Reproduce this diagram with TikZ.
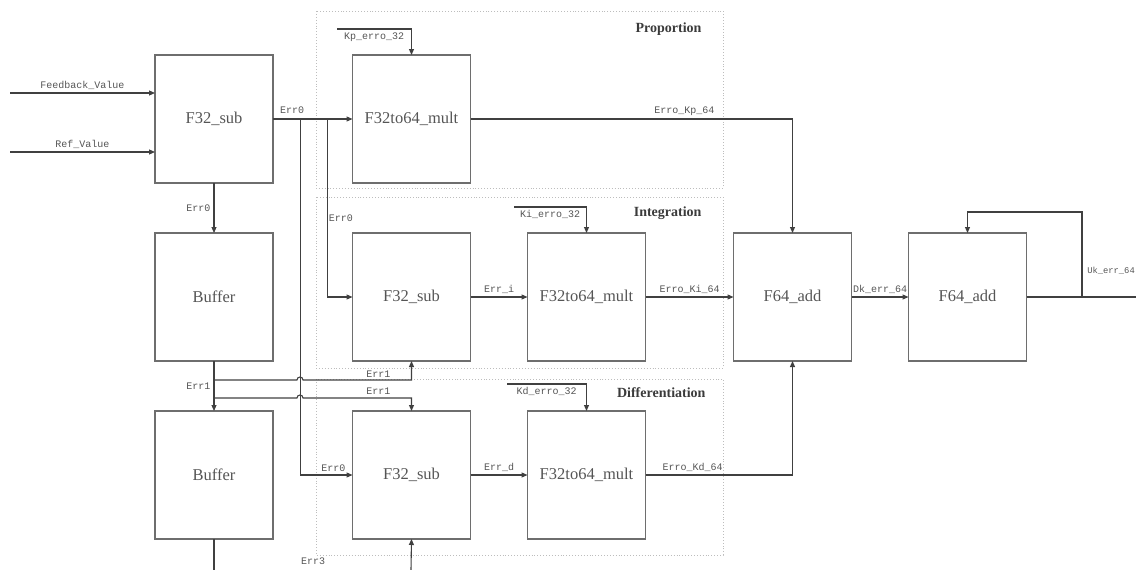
\documentclass[tikz,border=0pt]{standalone}
\usepackage{fontspec}
\setmainfont{Liberation Serif}
\setmonofont{Liberation Mono}
\usepackage{tikz}
\usetikzlibrary{positioning,arrows.meta}
\definecolor{linegray}{HTML}{404040}
\definecolor{boxgray}{HTML}{6E6E6E}
\definecolor{txtgray}{HTML}{555555}
\definecolor{grpgray}{HTML}{BDBDBD}

\begin{document}
\begin{tikzpicture}[x=1pt, y=-1pt, node distance=50pt,
  box/.style={draw=boxgray, line width=1.1pt, minimum width=118pt, minimum height=128pt,
    inner sep=0pt, outer sep=0pt, text=txtgray, font=\fontsize{16.5}{18}\selectfont},
  grp/.style={draw=grpgray, dotted, line width=0.9pt},
  sig/.style={draw=linegray, line width=1.1pt, -{Triangle[length=6pt,width=5pt]}},
  wire/.style={draw=linegray, line width=1.1pt},
  lbl/.style={font=\ttfamily\fontsize{10}{11}\selectfont, text=txtgray, inner sep=3pt},
  ttl/.style={font=\bfseries\fontsize{14}{16}\selectfont, text=txtgray!70!black}]
  \useasboundingbox (0,0) rectangle (1136,570);
  % groups
  \draw[grp] (316,11) rectangle (723,188);
  \draw[grp] (316,197) rectangle (723,368);
  \draw[grp] (316,379) rectangle (723,555);
  \node[ttl, anchor=east] (tp) at (705,29) {Proportion};
  \node[ttl, anchor=east] (ti) at (705,213) {Integration};
  \node[ttl, anchor=east] (td) at (709,393) {Differentiation};
  % blocks
  \node[box] (sub0) at (214,119) {F32\_sub};
  \node[box, below=of sub0] (buf1) {Buffer};
  \node[box, below=of buf1] (buf2) {Buffer};
  \node[box, right=79.5pt of sub0] (multp) {F32to64\_mult};
  \node[box, below=of multp] (subi) {F32\_sub};
  \node[box, right=57pt of subi] (multi) {F32to64\_mult};
  \node[box, below=of subi] (subd) {F32\_sub};
  \node[box, right=57pt of subd] (multd) {F32to64\_mult};
  \node[box, right=88pt of multi] (add1) {F64\_add};
  \node[box, right=57pt of add1] (add2) {F64\_add};
  % inputs
  \coordinate (fbin) at (10,93);
  \coordinate (refin) at (10,152);
  \draw[sig] (fbin) -- node[lbl, above] {Feedback\_Value} (fbin -| sub0.west);
  \draw[sig] (refin) -- node[lbl, above] {Ref\_Value} (refin -| sub0.west);
  % err0 fan-out
  \path (sub0.east) -- (multp.west) coordinate[pos=0.342] (j1) coordinate[pos=0.684] (j2);
  \draw[sig] (sub0.east) -- node[lbl, pos=0.24, above=2pt] {Err0} (multp.west);
  \draw[sig] (j2) |- (subi.west) node[lbl, pos=0.278, right=-2pt] {Err0};
  \draw[sig] (j1) |- (subd.west) node[lbl, pos=0.817, above] {Err0};
  \draw[sig] (sub0.south) -- node[lbl, left] {Err0} (buf1.north);
  \draw[sig] (buf1.south) -- node[lbl, left] {Err1} (buf2.north);
  % err1 branches, hopping over the err0 line
  \coordinate (t1) at (214,380);
  \coordinate (t2) at (214,398);
  \draw[sig] (t1) -- ++(83,0) arc[start angle=180, end angle=360, radius=3] -| (subi.south)
    node[lbl, pos=0.347, above=-1pt] {Err1};
  \draw[sig] (t2) -- ++(83,0) arc[start angle=180, end angle=360, radius=3] -| (subd.north)
    node[lbl, pos=0.347, above] {Err1};
  \coordinate (b2out) at (214,570);
  \draw[wire] (buf2.south) -- (b2out);
  \coordinate (e3in) at (411,570);
  \draw[sig] (e3in) -- (subd.south);
  \node[lbl] (le3) at (313,561) {Err3};
  % gains
  \coordinate (kp) at (337,29);
  \coordinate (ki) at (514,207);
  \coordinate (kd) at (507,384);
  \draw[sig] (kp) -| (multp.north) node[lbl, pos=0.25, below] {Kp\_erro\_32};
  \draw[sig] (ki) -| (multi.north) node[lbl, pos=0.25, below] {Ki\_erro\_32};
  \draw[sig] (kd) -| (multd.north) node[lbl, pos=0.25, below] {Kd\_erro\_32};
  % products
  \draw[sig] (subi.east) -- node[lbl, above] {Err\_i} (multi.west);
  \draw[sig] (subd.east) -- node[lbl, above] {Err\_d} (multd.west);
  \draw[sig] (multp.east) -| (add1.north) node[lbl, pos=0.332, above] {Erro\_Kp\_64};
  \draw[sig] (multi.east) -- node[lbl, above] {Erro\_Ki\_64} (add1.west);
  \draw[sig] (multd.east) -| (add1.south) node[lbl, pos=0.16, above] {Erro\_Kd\_64};
  \draw[sig] (add1.east) -- node[lbl, above] {Dk\_err\_64} (add2.west);
  % output and accumulator loop
  \coordinate (uout) at (1136,297);
  \coordinate (fb) at (1082,297);
  \draw[wire] (add2.east) -- (uout);
  \draw[sig] (fb) -- ++(0,-85) -| (add2.north);
  \node[lbl, anchor=east, inner sep=1pt, font=\ttfamily\fontsize{8.8}{10}\selectfont] (luk) at (1136,271) {Uk\_err\_64};
\end{tikzpicture}
\end{document}
